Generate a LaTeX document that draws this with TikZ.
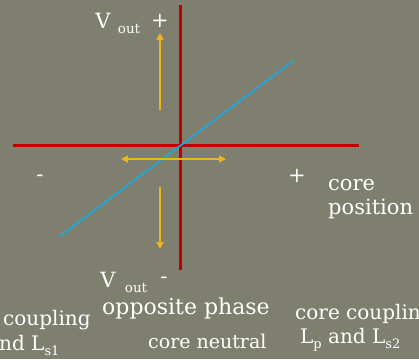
\documentclass[tikz,border=0pt]{standalone}
\usepackage{fontspec}
\setmainfont{DejaVu Serif}
\usetikzlibrary{arrows.meta,positioning}
\definecolor{slate}{RGB}{127,127,111}
\definecolor{axisred}{RGB}{192,0,0}
\definecolor{traceblue}{RGB}{25,170,225}
\definecolor{motion}{RGB}{240,180,20}
\newcommand{\lowsub}[1]{\raisebox{-5pt}{\fontsize{13}{13}\selectfont #1}}
\begin{document}
\begin{tikzpicture}[x=1pt,y=-1pt,
  axis/.style={draw=axisred, line width=3pt},
  trace/.style={draw=traceblue, line width=1.6pt},
  move/.style={-{Triangle[length=7pt,width=7pt]}, draw=motion, line width=1.6pt},
  swing/.style={{Triangle[length=7pt,width=7pt]}-{Triangle[length=7pt,width=7pt]}, draw=motion, line width=1.6pt},
  big/.style={text=white, inner sep=0pt, font=\fontsize{21}{23}\selectfont},
  phase/.style={text=white, inner sep=0pt, font=\fontsize{22}{24}\selectfont},
  mid/.style={text=white, inner sep=0pt, align=left, font=\fontsize{21}{24}\selectfont},
  small/.style={text=white, inner sep=0pt, font=\fontsize{20}{22}\selectfont},
  sub/.style={text=white, inner sep=0pt, font=\fontsize{13.5}{15}\selectfont}
]
\fill[slate] (0,0) rectangle (419,359);
\useasboundingbox (0,0) rectangle (419,359);

\coordinate (ytop) at (180,5);
\coordinate (ybot) at (180,270);
\coordinate (xleft) at (13,145);
\coordinate (xright) at (359,145);
\coordinate (lineend) at (60,236);
\coordinate (linestart) at (293,61);
\coordinate (uptail) at (160,110);
\coordinate (uptip) at (160,33);
\coordinate (downtail) at (160,187);
\coordinate (downtip) at (160,249);
\coordinate (swingl) at (121,159);
\coordinate (swingr) at (226,159);

\draw[axis] (ytop) -- (ybot);
\draw[axis] (xleft) -- (xright);
\draw[trace] (lineend) -- (linestart);
\draw[move] (uptail) -- (uptip);
\draw[move] (downtail) -- (downtip);
\draw[swing] (swingl) -- (swingr);

\node[big] (vtop) at (103,21) {V};
\node[sub] (vtopsub) at (129,29) {out};
\node[big] (vtopsign) at (160,21) {+};
\node[big] (vbot) at (108,280) {V};
\node[sub] (vbotsub) at (136,288) {out};
\node[big] (vbotsign) at (164,280) {-};
\node[big] (xneg) at (40,178) {-};
\node[big] (xpos) at (297,176) {+};
\node[mid, anchor=west] (corepos) at (328,199) {core\\position};
\node[phase, anchor=west] (opposite) at (102,308) {opposite phase};
\node[small, anchor=west, font=\fontsize{19}{21}\selectfont] (neutral) at (148,341) {core neutral};
\node[small, anchor=west] (leftcoup) at (3,320) {coupling};
\node[small, anchor=west] (leftind) at (-1,345) {nd L\lowsub{s1}};
\node[small, anchor=west] (rightcoup) at (295,314) {core coupling};
\node[small, anchor=west] (rightind) at (300,340) {L\lowsub{p} and L\lowsub{s2}};
\end{tikzpicture}
\end{document}
